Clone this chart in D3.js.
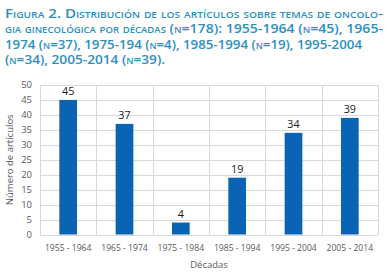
<!DOCTYPE html>
<html>
<head>
<meta charset="utf-8">
<script src="https://cdn.jsdelivr.net/npm/d3@7"></script>
<style>
body { margin: 0; background: #fff; }
svg { display: block; }
</style>
</head>
<body>
<script>
var svgWidth = 388;
var svgHeight = 277;

// chart data
var decades = ["1955 - 1964", "1965 - 1974", "1975 - 1984", "1985 - 1994", "1995 - 2004", "2005 - 2014"];
var articles = [45, 37, 4, 19, 34, 39];
var yTicks = [0, 5, 10, 15, 20, 25, 30, 35, 40, 45, 50];

var titleLines = [
    "Figura 2. Distribución de los artículos sobre temas de oncolo-",
    "gia ginecológica por décadas (n=178): 1955-1964 (n=45), 1965-",
    "1974 (n=37), 1975-194 (n=4), 1985-1994 (n=19), 1995-2004",
    "(n=34), 2005-2014 (n=39)."
];
var titleWidths = [378, 378, 357, 160];

var chartMargin = { top: 85, right: 10, bottom: 42.5, left: 40 };
var chartWidth = svgWidth - chartMargin.left - chartMargin.right;
var chartHeight = svgHeight - chartMargin.top - chartMargin.bottom;

var svg = d3.select("body").append("svg")
    .attr("width", svgWidth)
    .attr("height", svgHeight);

// title
svg.append("g").selectAll("text")
    .data(titleLines)
    .enter()
    .append("text")
    .attr("x", 5)
    .attr("y", (d, i) => 18.3 + i * 15.1)
    .attr("font-family", "'Open Sans', sans-serif")
    .attr("font-weight", 600)
    .attr("font-size", 11.8)
    .style("font-variant", "small-caps")
    .attr("fill", "#2e8fbf")
    .attr("textLength", (d, i) => titleWidths[i])
    .attr("lengthAdjust", "spacingAndGlyphs")
    .text(d => d);

var chartGroup = svg.append("g")
    .attr("transform", `translate(${chartMargin.left}, ${chartMargin.top})`);

var x = d3.scaleBand().domain(decades).range([0, chartWidth]).paddingInner(0.686).paddingOuter(0.343);
var xOuter = d3.scaleBand().domain(decades).range([0, chartWidth]);
var y = d3.scaleLinear().domain([0, 50]).range([chartHeight, 0]);

// horizontal grid
chartGroup.selectAll(".hgrid")
    .data(yTicks)
    .enter()
    .append("line")
    .attr("x1", 0)
    .attr("x2", chartWidth)
    .attr("y1", d => Math.round(y(d)) + 0.5)
    .attr("y2", d => Math.round(y(d)) + 0.5)
    .attr("stroke", "#d9d9d9")
    .attr("stroke-width", 1);

// vertical grid at category boundaries
var bounds = decades.map(d => xOuter(d)).concat([chartWidth]);
chartGroup.selectAll(".vgrid")
    .data(bounds)
    .enter()
    .append("line")
    .attr("x1", d => Math.round(d) + 0.5)
    .attr("x2", d => Math.round(d) + 0.5)
    .attr("y1", 0)
    .attr("y2", chartHeight)
    .attr("stroke", "#d9d9d9")
    .attr("stroke-width", 1);

// bars
chartGroup.selectAll(".bar")
    .data(articles)
    .enter()
    .append("rect")
    .attr("class", "bar")
    .attr("x", (d, i) => x(decades[i]))
    .attr("width", x.bandwidth())
    .attr("y", d => y(d))
    .attr("height", d => chartHeight - y(d))
    .attr("fill", "#0b63b3");

// value labels
chartGroup.selectAll(".val")
    .data(articles)
    .enter()
    .append("text")
    .attr("x", (d, i) => x(decades[i]) + x.bandwidth() / 2)
    .attr("y", d => y(d) - 4.5)
    .attr("text-anchor", "middle")
    .attr("font-family", "'Open Sans', sans-serif")
    .attr("font-size", 10.8)
    .attr("fill", "#1a1a1a")
    .text(d => d);

// y tick labels
chartGroup.selectAll(".ytick")
    .data(yTicks)
    .enter()
    .append("text")
    .attr("x", -8)
    .attr("y", d => y(d))
    .attr("dy", "0.35em")
    .attr("text-anchor", "end")
    .attr("font-family", "'Open Sans', sans-serif")
    .attr("font-size", 9.5)
    .attr("fill", "#595959")
    .text(d => d);

// x tick labels
chartGroup.selectAll(".xtick")
    .data(decades)
    .enter()
    .append("text")
    .attr("x", d => xOuter(d) + xOuter.bandwidth() / 2)
    .attr("y", chartHeight + 16)
    .attr("text-anchor", "middle")
    .attr("font-family", "'Open Sans', sans-serif")
    .attr("font-size", 8.6)
    .attr("fill", "#595959")
    .text(d => d);

// axis titles
chartGroup.append("text")
    .attr("x", chartWidth / 2)
    .attr("y", chartHeight + 33)
    .attr("text-anchor", "middle")
    .attr("font-family", "'Open Sans', sans-serif")
    .attr("font-size", 9.5)
    .attr("fill", "#595959")
    .text("Décadas");

chartGroup.append("text")
    .attr("transform", `translate(-27, ${chartHeight / 2}) rotate(-90)`)
    .attr("text-anchor", "middle")
    .attr("font-family", "'Open Sans', sans-serif")
    .attr("font-size", 9.5)
    .attr("fill", "#595959")
    .text("Número de artículos");
</script>
</body>
</html>
